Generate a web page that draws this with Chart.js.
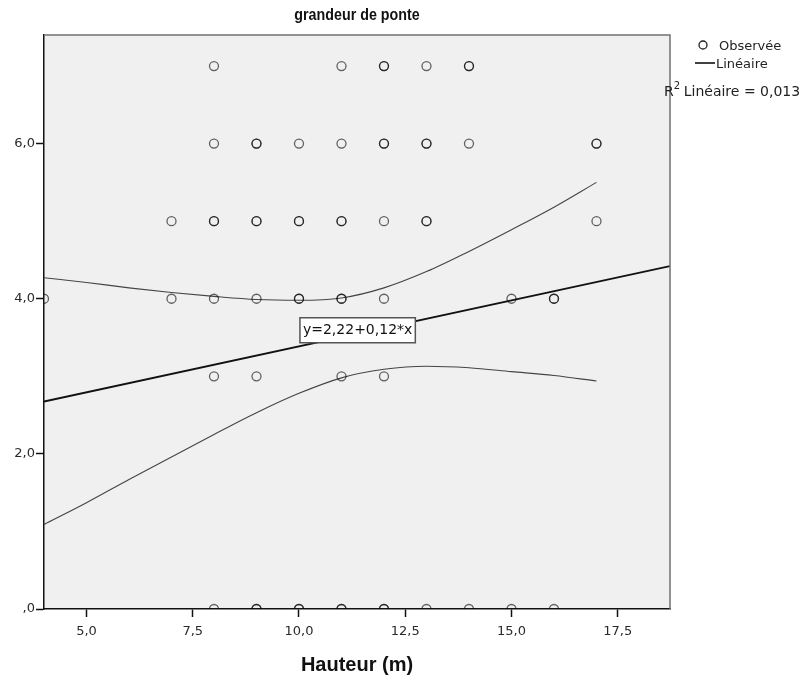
<!DOCTYPE html>
<html>
<head>
<meta charset="utf-8">
<script src="https://cdn.jsdelivr.net/npm/chart.js@4"></script>
<style>
    body { margin: 0; background: #fff; }
    #wrap { width: 805px; height: 680px; }
</style>
</head>
<body>
<div id="wrap"><canvas id="scatterChart" width="805" height="680"></canvas></div>
<script>
var titre = 'grandeur de ponte';
var titreAxeX = 'Hauteur (m)';
var equation = 'y=2,22+0,12*x';
var legendeObs = 'Observée';
var legendeLin = 'Linéaire';
var legendeR2 = 'Linéaire = 0,013';

// observations (doublons = points superposés, plus foncés)
var obsX = [8, 11, 12, 12, 13, 14, 14,
            8, 9, 9, 10, 11, 12, 12, 13, 13, 14, 17, 17,
            7, 8, 8, 9, 9, 10, 10, 11, 11, 12, 13, 13, 17,
            4, 7, 8, 9, 10, 10, 11, 11, 12, 15, 16, 16,
            8, 9, 11, 12,
            8, 9, 9, 10, 10, 11, 11, 12, 12, 13, 14, 15, 16];
var obsY = [7, 7, 7, 7, 7, 7, 7,
            6, 6, 6, 6, 6, 6, 6, 6, 6, 6, 6, 6,
            5, 5, 5, 5, 5, 5, 5, 5, 5, 5, 5, 5, 5,
            4, 4, 4, 4, 4, 4, 4, 4, 4, 4, 4, 4,
            3, 3, 3, 3,
            0, 0, 0, 0, 0, 0, 0, 0, 0, 0, 0, 0, 0];

// droite d'ajustement linéaire
var ajustX = [4, 18.73];
var ajustY = [2.675, 4.42];

// intervalle de confiance de la moyenne
var bandeX = [4, 5, 6, 7, 8, 9, 10, 11, 12, 13, 14, 15, 16, 17];
var bandeHaut = [4.27, 4.21, 4.14, 4.08, 4.03, 3.99, 3.98, 4.01, 4.14, 4.35, 4.61, 4.89, 5.18, 5.50];
var bandeBas = [1.09, 1.37, 1.67, 1.96, 2.25, 2.53, 2.78, 2.98, 3.09, 3.13, 3.11, 3.06, 3.01, 2.94];

var xTicks = [5, 7.5, 10, 12.5, 15, 17.5];
var xTickLabels = ['5,0', '7,5', '10,0', '12,5', '15,0', '17,5'];
var yTicks = [0, 2, 4, 6];
var yTickLabels = [',0', '2,0', '4,0', '6,0'];

var police = "'Liberation Sans', Arial, sans-serif";
var policeLarge = "'DejaVu Sans', Verdana, sans-serif";

function toPoints(xs, ys) {
    var pts = [];
    for (var i = 0; i < xs.length; i++) {
        pts.push({ x: xs[i], y: ys[i] });
    }
    return pts;
}

var decorPlugin = {
    id: 'decor',
    beforeDraw: function (chart) {
        var ctx = chart.ctx;
        var a = chart.chartArea;
        ctx.save();
        ctx.fillStyle = '#ffffff';
        ctx.fillRect(0, 0, chart.width, chart.height);
        ctx.fillStyle = '#f0f0f0';
        ctx.fillRect(a.left, a.top, a.right - a.left, a.bottom - a.top);
        ctx.restore();
    },
    afterDraw: function (chart) {
        var ctx = chart.ctx;
        var a = chart.chartArea;
        var xs = chart.scales.x;
        var ys = chart.scales.y;
        ctx.save();

        // cadre haut / droite
        ctx.strokeStyle = '#707070';
        ctx.lineWidth = 1.5;
        ctx.beginPath();
        ctx.moveTo(a.left, a.top);
        ctx.lineTo(a.right, a.top);
        ctx.lineTo(a.right, a.bottom);
        ctx.stroke();

        // étiquette de l'équation
        ctx.font = '14px ' + policeLarge;
        var w = ctx.measureText(equation).width + 6;
        var cx = xs.getPixelForValue(11.38);
        var cy = ys.getPixelForValue(3.6);
        ctx.fillStyle = '#ffffff';
        ctx.fillRect(cx - w / 2, cy - 12, w, 25);
        ctx.strokeStyle = '#555';
        ctx.lineWidth = 1.5;
        ctx.strokeRect(cx - w / 2, cy - 12, w, 25);
        ctx.fillStyle = '#111';
        ctx.textAlign = 'center';
        ctx.textBaseline = 'middle';
        ctx.fillText(equation, cx, cy + 1);

        // titre (un peu condensé)
        ctx.save();
        ctx.font = 'bold 17px ' + police;
        ctx.translate((a.left + a.right) / 2, 15);
        ctx.scale(0.84, 1);
        ctx.fillText(titre, 0, 0);
        ctx.restore();

        // titre axe X
        ctx.font = 'bold 20px ' + police;
        ctx.fillText(titreAxeX, (a.left + a.right) / 2, 665);

        // légende
        ctx.textAlign = 'left';
        ctx.font = '13px ' + policeLarge;
        ctx.strokeStyle = '#222';
        ctx.lineWidth = 1.3;
        ctx.beginPath();
        ctx.arc(703, 45, 4, 0, Math.PI * 2);
        ctx.stroke();
        ctx.fillStyle = '#222';
        ctx.fillText(legendeObs, 719, 47);

        ctx.strokeStyle = '#111';
        ctx.lineWidth = 1.6;
        ctx.beginPath();
        ctx.moveTo(695, 63);
        ctx.lineTo(715, 63);
        ctx.stroke();
        ctx.fillText(legendeLin, 716, 65);

        ctx.font = '14px ' + policeLarge;
        ctx.fillText('R', 664, 92);
        var rw = ctx.measureText('R').width;
        ctx.font = '10px ' + policeLarge;
        ctx.fillText('2', 664 + rw, 86);
        ctx.font = '14px ' + policeLarge;
        ctx.fillText(legendeR2, 664 + rw + 10, 92);

        ctx.restore();
    }
};

var context = document.getElementById('scatterChart').getContext('2d');
var scatterChart = new Chart(context, {
    type: 'scatter',
    data: {
        datasets: [{
            label: 'Observée',
            data: toPoints(obsX, obsY),
            showLine: false,
            pointStyle: 'circle',
            pointRadius: 4.5,
            pointBorderWidth: 1.3,
            pointBorderColor: 'rgba(0,0,0,0.6)',
            pointBackgroundColor: 'rgba(0,0,0,0)',
            clip: 0,
            order: 1
        }, {
            type: 'line',
            label: 'Linéaire',
            data: toPoints(ajustX, ajustY),
            borderColor: '#111',
            borderWidth: 1.8,
            pointRadius: 0,
            clip: 0,
            order: 2
        }, {
            type: 'line',
            label: 'IC haut',
            data: toPoints(bandeX, bandeHaut),
            borderColor: '#444',
            borderWidth: 1.1,
            pointRadius: 0,
            cubicInterpolationMode: 'monotone',
            clip: 0,
            order: 3
        }, {
            type: 'line',
            label: 'IC bas',
            data: toPoints(bandeX, bandeBas),
            borderColor: '#444',
            borderWidth: 1.1,
            pointRadius: 0,
            cubicInterpolationMode: 'monotone',
            clip: 0,
            order: 3
        }]
    },
    options: {
        responsive: false,
        devicePixelRatio: 1,
        animation: false,
        layout: {
            padding: { top: 35, right: 135, left: 0, bottom: 0 }
        },
        plugins: {
            legend: { display: false },
            title: { display: false },
            tooltip: { enabled: false }
        },
        scales: {
            x: {
                type: 'linear',
                min: 4,
                max: 18.73,
                afterFit: function (scale) { scale.height = 71; },
                afterBuildTicks: function (scale) {
                    scale.ticks = xTicks.map(function (v) { return { value: v }; });
                },
                grid: {
                    drawOnChartArea: false,
                    drawTicks: true,
                    tickLength: 8,
                    tickColor: '#111',
                    tickWidth: 1.5
                },
                border: { display: true, color: '#111', width: 1.5 },
                ticks: {
                    autoSkip: false,
                    maxRotation: 0,
                    padding: 7,
                    color: '#2a2a2a',
                    font: { family: policeLarge, size: 13 },
                    callback: function (value, index) { return xTickLabels[index]; }
                }
            },
            y: {
                type: 'linear',
                min: 0,
                max: 7.4,
                afterFit: function (scale) { scale.width = 44; },
                afterBuildTicks: function (scale) {
                    scale.ticks = yTicks.map(function (v) { return { value: v }; });
                },
                grid: {
                    drawOnChartArea: false,
                    drawTicks: true,
                    tickLength: 8,
                    tickColor: '#111',
                    tickWidth: 1.5
                },
                border: { display: true, color: '#111', width: 1.5 },
                ticks: {
                    autoSkip: false,
                    padding: 1,
                    color: '#2a2a2a',
                    font: { family: policeLarge, size: 13 },
                    callback: function (value, index) { return yTickLabels[index]; }
                }
            }
        }
    },
    plugins: [decorPlugin]
});
</script>
</body>
</html>
